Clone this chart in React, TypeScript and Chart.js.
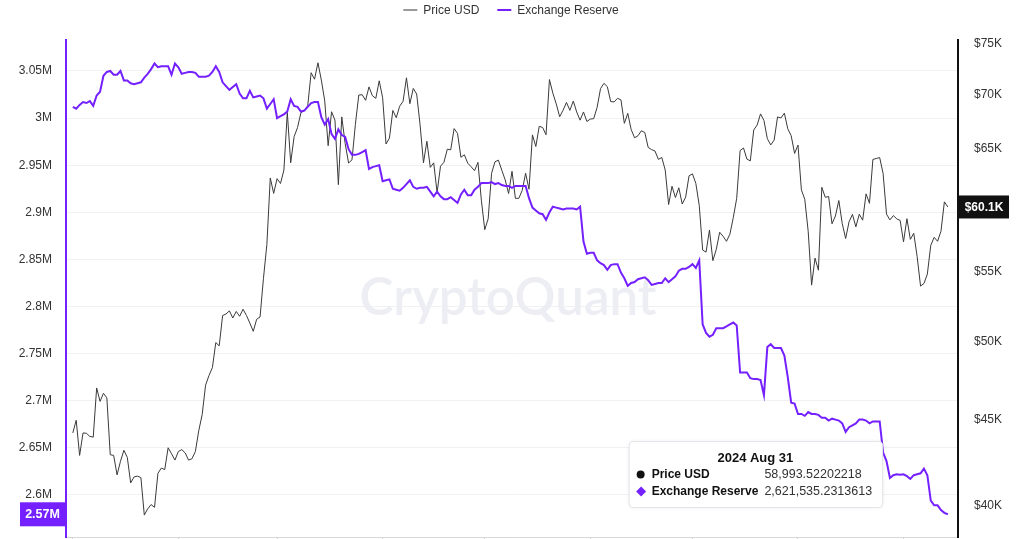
import React, { useEffect, useRef } from "react";
import { Chart, registerables } from "chart.js";

Chart.register(...registerables);

// ---------- DATA ----------
const START_DATE = "2024-01-01";
const TOOLTIP_DATE = "2024-08-31";
const SERIES_LABELS = ["Price USD", "Exchange Reserve"];
const WATERMARK = "CryptoQuant";

// Daily BTC price (USD), Jan 1 – Sep 14 2024
const PRICE_USD = [
  // Jan
  44180, 44950, 42850, 44180, 44160, 43970, 43930, 46970, 46120, 46630,
  46340, 42890, 42850, 41730, 42510, 43150, 42740, 41280, 41620, 41660,
  41580, 39510, 39850, 40080, 39930, 41820, 42120, 42030, 43300, 42950, 42580,
  // Feb
  43080, 43190, 43000, 42580, 42660, 43080, 44320, 45300, 47150, 47770,
  48290, 49960, 49740, 51830, 51940, 52160, 51660, 52120, 51780, 52280,
  51840, 51300, 50730, 51570, 51730, 54520, 57090, 62500, 61200,
  // Mar
  62440, 62030, 63170, 68330, 63800, 66110, 66930, 68300, 68500, 68960,
  72120, 71480, 73100, 71400, 69400, 65300, 68390, 67610, 61930, 67910,
  65490, 63780, 64060, 67230, 69960, 69990, 69460, 70740, 69890, 69650, 71330,
  // Apr
  69700, 65450, 65980, 68510, 67840, 68900, 69360, 71620, 69140, 70590,
  70060, 67200, 63800, 65700, 63400, 63800, 61270, 63510, 63840, 64990,
  64940, 66840, 66410, 64280, 64500, 63770, 63460, 63120, 63840, 60640,
  // May
  58250, 59120, 62890, 63890, 64030, 63160, 62330, 61190, 63070, 60790,
  60790, 61450, 62900, 61550, 66270, 65230, 67050, 66940, 66280, 71450,
  70140, 69120, 67930, 68530, 69260, 68520, 69390, 68370, 67610, 68370, 67490,
  // Jun
  67710, 67750, 68800, 70570, 71080, 70760, 69340, 69310, 69650, 69500,
  67320, 68240, 66760, 66010, 66190, 66640, 66490, 65150, 64960, 64830,
  64100, 64260, 63180, 60280, 61800, 60860, 61670, 60320, 60890, 62680,
  // Jul
  62850, 62030, 60200, 56660, 56500, 58230, 55850, 56710, 58050, 57730,
  57340, 57900, 59230, 60790, 64870, 65100, 64120, 63970, 66710, 67160,
  68190, 67580, 65930, 65370, 65800, 67910, 67810, 68260, 66820, 66200, 64620,
  // Aug
  65360, 61500, 60700, 58120, 54020, 56040, 55130, 61710, 60880, 60940,
  58720, 59350, 60610, 58740, 57560, 58880, 59480, 58480, 59490, 59010,
  61160, 60380, 64090, 64180, 64250, 62880, 59500, 59030, 59380, 59120, 58993.52202218,
  // Sep
  57300, 59130, 57490, 57970, 56160, 53950, 54140, 54840, 57020, 57650,
  57340, 58130, 60500, 60080,
];

// Daily exchange reserve (BTC), Jan 1 – Sep 14 2024
const EXCHANGE_RESERVE = [
  3012000, 3010000, 3014000, 3017000, 3016000, 3018000, 3013000, 3024000, 3028000, 3045000,
  3049000, 3050000, 3046000, 3046000, 3050000, 3040000, 3040000, 3037000, 3036000, 3037000,
  3038000, 3043000, 3047000, 3052000, 3058000, 3054000, 3055000, 3055000, 3055000, 3046000,
  3058000, 3054000, 3047000, 3048000, 3049000, 3049000, 3048000, 3044000, 3044000, 3044000,
  3045000, 3049000, 3055000, 3049000, 3038000, 3034000, 3030000, 3033000, 3036000, 3026000,
  3021000, 3021000, 3029000, 3022000, 3023000, 3024000, 3021000, 3010000, 3015000, 3020000,
  3000000, 3002000, 3004000, 3007000, 3020000, 3013000, 3012000, 3007000, 3008000, 3012000,
  3016000, 3017000, 3017000, 3001000, 2993000, 2999000, 2983000, 2978000, 2988000, 2982000,
  2980000, 2967000, 2961000, 2961000, 2962000, 2964000, 2966000, 2946000, 2948000, 2949000,
  2950000, 2933000, 2934000, 2935000, 2925000, 2924000, 2923000, 2926000, 2930000, 2934000,
  2927000, 2925000, 2926000, 2926000, 2927000, 2922000, 2917000, 2922000, 2917000, 2914000,
  2914000, 2916000, 2913000, 2910000, 2919000, 2924000, 2918000, 2918000, 2924000, 2927000,
  2931000, 2931000, 2931000, 2932000, 2930000, 2931000, 2929000, 2928000, 2928000, 2926000,
  2928000, 2928000, 2928000, 2928000, 2915000, 2905000, 2902000, 2899000, 2898000, 2892000,
  2900000, 2906000, 2905000, 2904000, 2903000, 2904000, 2904000, 2904000, 2903000, 2906000,
  2869000, 2856000, 2857000, 2857000, 2849000, 2846000, 2844000, 2839000, 2844000, 2845000,
  2845000, 2836000, 2830000, 2822000, 2825000, 2826000, 2829000, 2830000, 2831000, 2828000,
  2823000, 2824000, 2825000, 2825000, 2830000, 2826000, 2829000, 2832000, 2838000, 2840000,
  2840000, 2842000, 2845000, 2841000, 2849000, 2781000, 2772000, 2768000, 2770000, 2777000,
  2777000, 2777000, 2779000, 2781000, 2783000, 2780000, 2730000, 2730000, 2730000, 2724000,
  2723000, 2723000, 2722000, 2706000, 2757000, 2760000, 2756000, 2756000, 2756000, 2748000,
  2725000, 2698000, 2697000, 2686000, 2686000, 2684000, 2688000, 2686000, 2686000, 2685000,
  2682000, 2682000, 2679000, 2681000, 2680000, 2679000, 2676000, 2667000, 2672000, 2674000,
  2676000, 2680000, 2680000, 2679000, 2676000, 2678000, 2678000, 2678000, 2645000, 2636000,
  2618000, 2621000, 2622000, 2621535.2313613, 2622000, 2620000, 2617000, 2621000, 2622000, 2623000,
  2628000, 2621000, 2594000, 2589000, 2589000, 2584000, 2581000, 2579500,
];

const RESERVE_TICKS = [2600000, 2650000, 2700000, 2750000, 2800000, 2850000, 2900000, 2950000, 3000000, 3050000];
const PRICE_TICKS = [40000, 45000, 50000, 55000, 60000, 65000, 70000, 75000];
const RESERVE_RANGE = [2555400, 3082900];
const PRICE_RANGE = [38350, 75400];
const TOOLTIP_DIGITS = [8, 7];

// ---------- STYLE ----------
const FONT = '"Liberation Sans", Arial, Helvetica, sans-serif';
const PURPLE = "#7420ff";
const PRICE_LINE = "#3a3a3a";
const PRICE_LEGEND = "#9a9a9a";
const MONTHS = ["Jan", "Feb", "Mar", "Apr", "May", "Jun", "Jul", "Aug", "Sep", "Oct", "Nov", "Dec"];

const DAY = 86400000;
const START_MS = Date.parse(START_DATE + "T00:00:00Z");
const DATES = PRICE_USD.map((_, i) => new Date(START_MS + i * DAY));
const MONTH_STARTS = DATES.map((d, i) => (d.getUTCDate() === 1 ? i : -1)).filter((i) => i >= 0);

const fmtDate = (d: Date) => `${d.getUTCFullYear()} ${MONTHS[d.getUTCMonth()]} ${d.getUTCDate()}`;

const watermarkPlugin = {
  id: "watermark",
  beforeDatasetsDraw(chart: any) {
    const { ctx, chartArea } = chart;
    ctx.save();
    let size = 48;
    ctx.font = `600 ${size}px Lato, "Open Sans", sans-serif`;
    const w = ctx.measureText(WATERMARK).width;
    size = (size * 297) / w;
    ctx.font = `600 ${size}px Lato, "Open Sans", sans-serif`;
    ctx.fillStyle = "#ededf4";
    ctx.textAlign = "center";
    ctx.textBaseline = "alphabetic";
    const cx = (chartArea.left + chartArea.right) / 2 - 4;
    ctx.fillText(WATERMARK, cx, 315);
    ctx.restore();
  },
};

const legendPlugin = {
  id: "lineLegend",
  afterDraw(chart: any) {
    const { ctx } = chart;
    ctx.save();
    ctx.font = `12px ${FONT}`;
    const items = chart.data.datasets.map((ds: any) => ({ label: ds.label, color: ds.legendColor }));
    const sw = 14, gap = 6, itemGap = 18;
    const widths = items.map((it: any) => sw + gap + ctx.measureText(it.label).width);
    const total = widths.reduce((a: number, b: number) => a + b, 0) + itemGap * (items.length - 1);
    let x = chart.width / 2 - 1 - total / 2;
    const y = 10;
    items.forEach((it: any, i: number) => {
      ctx.fillStyle = it.color;
      ctx.fillRect(x, y - 1, sw, 2);
      ctx.fillStyle = "#333";
      ctx.textBaseline = "middle";
      ctx.textAlign = "left";
      ctx.fillText(it.label, x + sw + gap, y + 0.5);
      x += widths[i] + itemGap;
    });
    ctx.restore();
  },
};

const badgePlugin = {
  id: "badges",
  afterDraw(chart: any) {
    const { ctx, chartArea, scales } = chart;
    const lastR = EXCHANGE_RESERVE[EXCHANGE_RESERVE.length - 1];
    const lastP = PRICE_USD[PRICE_USD.length - 1];
    ctx.save();
    ctx.textAlign = "center";
    ctx.textBaseline = "middle";
    // left
    const yl = scales.yR.getPixelForValue(lastR);
    ctx.fillStyle = PURPLE;
    ctx.fillRect(20, yl - 12, chartArea.left - 21, 24);
    ctx.fillStyle = "#fff";
    ctx.font = `bold 12.5px ${FONT}`;
    ctx.fillText(`${(Math.floor(lastR / 1e4) / 100).toFixed(2)}M`, (20 + chartArea.left - 1) / 2, yl + 0.5);
    // right
    const yr = scales.yP.getPixelForValue(lastP);
    ctx.fillStyle = "#111";
    ctx.fillRect(chartArea.right + 1, yr - 11.5, 50, 23);
    ctx.fillStyle = "#fff";
    ctx.font = `bold 12px ${FONT}`;
    ctx.fillText(`$${(lastP / 1000).toFixed(1)}K`, chartArea.right + 26, yr + 0.5);
    ctx.restore();
  },
};

const tooltipPlugin = {
  id: "staticTooltip",
  afterDraw(chart: any) {
    const { ctx, chartArea, scales } = chart;
    const idx = DATES.findIndex((d) => d.toISOString().slice(0, 10) === TOOLTIP_DATE);
    if (idx < 0) return;
    const px = scales.x.getPixelForValue(idx);
    const vals = [
      PRICE_USD[idx].toLocaleString("en-US", { maximumFractionDigits: TOOLTIP_DIGITS[0] }),
      EXCHANGE_RESERVE[idx].toLocaleString("en-US", { maximumFractionDigits: TOOLTIP_DIGITS[1] }),
    ];
    ctx.save();
    ctx.font = `bold 12px ${FONT}`;
    const labW = Math.max(...SERIES_LABELS.map((l) => ctx.measureText(l).width));
    ctx.font = `12.5px ${FONT}`;
    const valW = Math.max(...vals.map((v) => ctx.measureText(v).width));
    const boxW = 23 + labW + 6 + valW + 10;
    const boxH = 66;
    const right = px - 18;
    const left = right - boxW;
    const top = chartArea.bottom - 96;
    ctx.shadowColor = "rgba(0,0,0,0.08)";
    ctx.shadowBlur = 4;
    ctx.fillStyle = "#fff";
    ctx.beginPath();
    ctx.roundRect(left + 0.5, top + 0.5, boxW, boxH, 4);
    ctx.fill();
    ctx.shadowBlur = 0;
    ctx.shadowColor = "transparent";
    ctx.strokeStyle = "#e4e4ea";
    ctx.lineWidth = 1;
    ctx.stroke();
    ctx.textBaseline = "middle";
    ctx.fillStyle = "#111";
    ctx.font = `bold 13px ${FONT}`;
    ctx.textAlign = "center";
    ctx.fillText(fmtDate(DATES[idx]), left + boxW / 2, top + 17);
    const rows = [top + 33.5, top + 50.5];
    ctx.fillStyle = "#111";
    ctx.beginPath();
    ctx.arc(left + 12, rows[0], 4, 0, Math.PI * 2);
    ctx.fill();
    ctx.fillStyle = PURPLE;
    ctx.beginPath();
    const dx = left + 12.5, dy = rows[1];
    ctx.moveTo(dx, dy - 5);
    ctx.lineTo(dx + 5, dy);
    ctx.lineTo(dx, dy + 5);
    ctx.lineTo(dx - 5, dy);
    ctx.closePath();
    ctx.fill();
    ctx.textAlign = "left";
    ctx.fillStyle = "#111";
    ctx.font = `bold 12px ${FONT}`;
    SERIES_LABELS.forEach((l, i) => ctx.fillText(l, left + 23, rows[i]));
    ctx.fillStyle = "#333";
    ctx.font = `12.5px ${FONT}`;
    vals.forEach((v, i) => ctx.fillText(v, left + 23 + labW + 6, rows[i]));
    ctx.restore();
  },
};

export default function App() {
  const ref = useRef<HTMLCanvasElement | null>(null);

  useEffect(() => {
    if (!ref.current) return;
    const noPad = (s: any) => {
      s.width = 66;
      s.paddingTop = 0;
      s.paddingBottom = 0;
    };
    const chart = new Chart(ref.current, {
      type: "line",
      data: {
        datasets: [
          {
            label: SERIES_LABELS[0],
            data: PRICE_USD.map((v, i) => ({ x: i, y: v })),
            yAxisID: "yP",
            borderColor: PRICE_LINE,
            borderWidth: 1,
            pointRadius: 0,
            tension: 0,
            order: 2,
            legendColor: PRICE_LEGEND,
          } as any,
          {
            label: SERIES_LABELS[1],
            data: EXCHANGE_RESERVE.map((v, i) => ({ x: i, y: v })),
            yAxisID: "yR",
            borderColor: PURPLE,
            borderWidth: 2,
            pointRadius: 0,
            tension: 0,
            order: 1,
            legendColor: PURPLE,
          } as any,
        ],
      },
      options: {
        animation: false,
        responsive: true,
        maintainAspectRatio: false,
        layout: { padding: { top: 40, left: 0, right: 0, bottom: 0 } },
        plugins: { legend: { display: false }, tooltip: { enabled: false } },
        events: [],
        scales: {
          x: {
            type: "linear",
            position: "bottom",
            min: -2,
            max: PRICE_USD.length + 2,
            afterBuildTicks: (s: any) => {
              s.ticks = MONTH_STARTS.map((v) => ({ value: v }));
            },
            afterFit: (s: any) => {
              s.height = 2;
              s.paddingLeft = 0;
              s.paddingRight = 0;
            },
            ticks: { display: false },
            grid: { drawOnChartArea: false, drawTicks: true, tickLength: 5, color: "#d8d8d8" },
            border: { color: "#d8d8d8", width: 1 },
          },
          yR: {
            type: "linear",
            position: "left",
            min: RESERVE_RANGE[0],
            max: RESERVE_RANGE[1],
            afterBuildTicks: (s: any) => {
              s.ticks = RESERVE_TICKS.map((v) => ({ value: v }));
            },
            afterFit: noPad,
            ticks: {
              callback: (v: any) => `${+(Number(v) / 1e6).toFixed(2)}M`,
              color: "#333",
              font: { family: FONT, size: 12 },
              padding: 14,
            },
            grid: { color: "#f1f1f3", drawTicks: false },
            border: { color: PURPLE, width: 2 },
          },
          yP: {
            type: "logarithmic",
            position: "right",
            min: PRICE_RANGE[0],
            max: PRICE_RANGE[1],
            afterBuildTicks: (s: any) => {
              s.ticks = PRICE_TICKS.map((v) => ({ value: v }));
            },
            afterFit: noPad,
            ticks: {
              callback: (v: any) => `$${Number(v) / 1000}K`,
              color: "#333",
              font: { family: FONT, size: 12 },
              padding: 16,
            },
            grid: { drawOnChartArea: false, drawTicks: false },
            border: { color: "#111", width: 2 },
          },
        },
      } as any,
      plugins: [watermarkPlugin, badgePlugin, tooltipPlugin, legendPlugin],
    });
    return () => chart.destroy();
  }, []);

  return (
    <div style={{ position: "fixed", left: 0, top: 0, width: 1024, height: 539, background: "#fff" }}>
      <canvas ref={ref} />
    </div>
  );
}
